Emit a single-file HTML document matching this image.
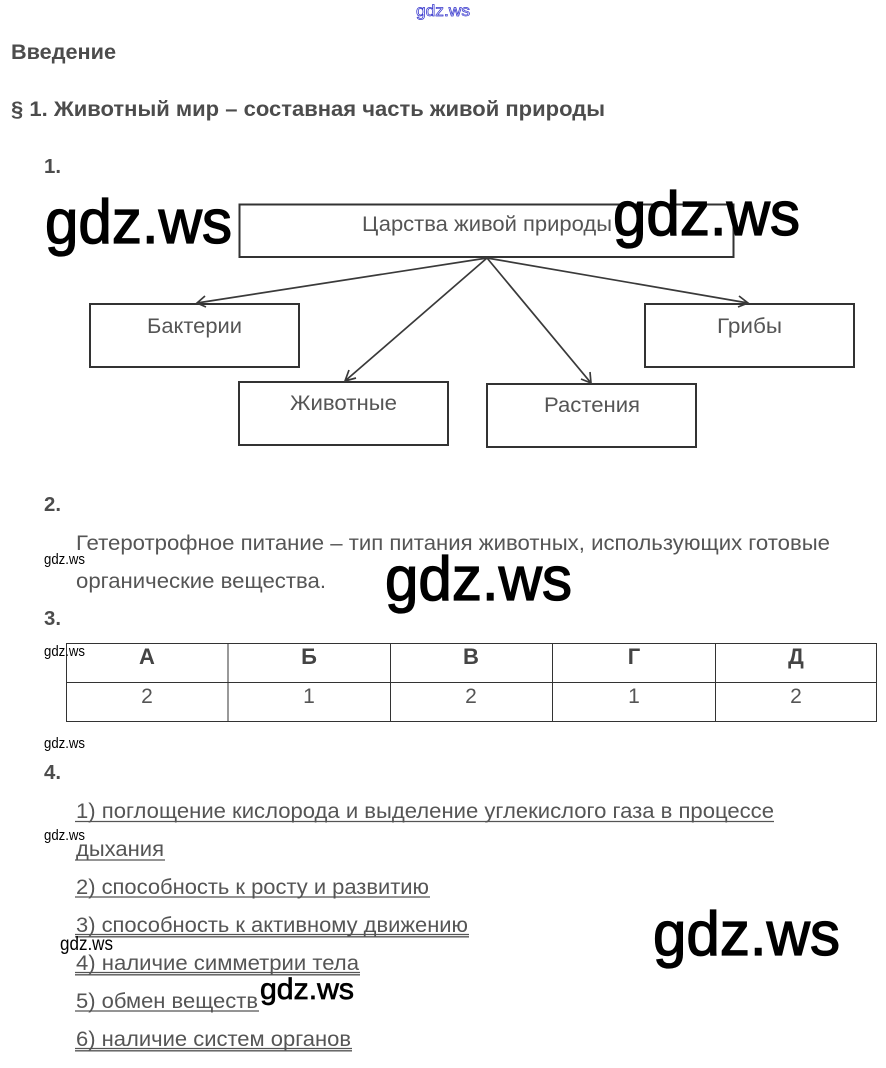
<!DOCTYPE html>
<html lang="ru">
<head>
<meta charset="utf-8">
<style>
html,body{margin:0;padding:0;background:#fff}
svg{display:block}
text{font-family:"Liberation Sans",sans-serif}
.h{font-size:21px;font-weight:bold;fill:#4c4c4c}
.n{font-size:20px;font-weight:bold;fill:#4c4c4c}
.t{font-size:21px;fill:#555}
.c{font-size:21px;fill:#555;text-anchor:middle}
.b{font-size:22px;font-weight:bold;fill:#444;text-anchor:middle}
.w{fill:#000}
.big{font-size:62px;stroke:#000;stroke-width:1.3}
.mid{font-size:30px;stroke:#000;stroke-width:.7}
.sm{font-size:15px}
.u{stroke:#555;stroke-width:1.3}
.box{fill:none;stroke:#333;stroke-width:2}
.ar{fill:none;stroke:#3a3a3a;stroke-width:1.7}
.tb{stroke:#333;stroke-width:1;fill:none}
</style>
</head>
<body>
<svg width="886" height="1068" viewBox="0 0 886 1068" xmlns="http://www.w3.org/2000/svg">
<rect width="886" height="1068" fill="#fff"/>

<text x="416" y="16" font-size="16" textLength="54" lengthAdjust="spacingAndGlyphs" fill="#fff" stroke="#3333cc" stroke-width="0.7">gdz.ws</text>

<text class="h" x="11" y="59" textLength="105" lengthAdjust="spacingAndGlyphs">Введение</text>
<text class="h" x="11" y="116" textLength="594" lengthAdjust="spacingAndGlyphs">§ 1. Животный мир – составная часть живой природы</text>
<text class="n" x="44" y="173" textLength="17" lengthAdjust="spacingAndGlyphs">1.</text>

<rect class="box" x="239.5" y="204.5" width="494" height="52.5"/>
<text class="t" x="362" y="231" textLength="250" lengthAdjust="spacingAndGlyphs">Царства живой природы</text>

<rect class="box" x="90" y="304" width="209" height="63"/>
<rect class="box" x="239" y="382" width="209" height="63"/>
<rect class="box" x="487" y="384" width="209" height="63"/>
<rect class="box" x="645" y="304" width="209" height="63"/>
<text class="t" x="147" y="333" textLength="95" lengthAdjust="spacingAndGlyphs">Бактерии</text>
<text class="t" x="290" y="410" textLength="107" lengthAdjust="spacingAndGlyphs">Животные</text>
<text class="t" x="544" y="412" textLength="96" lengthAdjust="spacingAndGlyphs">Растения</text>
<text class="t" x="717" y="333" textLength="65" lengthAdjust="spacingAndGlyphs">Грибы</text>

<path class="ar" d="M487 258 L197 303 M205 296 L197 303 L206 307"/>
<path class="ar" d="M487 258 L345 381 M349 370 L345 381 L356 378"/>
<path class="ar" d="M487 258 L591 383 M590 372 L591 383 L581 379"/>
<path class="ar" d="M487 258 L748 303 M739 296 L748 303 L738 307"/>

<text class="n" x="44" y="511" textLength="17" lengthAdjust="spacingAndGlyphs">2.</text>
<text class="t" x="76" y="550" textLength="754" lengthAdjust="spacingAndGlyphs">Гетеротрофное питание – тип питания животных, использующих готовые</text>
<text class="t" x="76" y="588" textLength="250" lengthAdjust="spacingAndGlyphs">органические вещества.</text>
<text class="n" x="44" y="625" textLength="17" lengthAdjust="spacingAndGlyphs">3.</text>

<path class="tb" d="M66.5 643.5H876.5V721.5H66.5Z M66.5 682.5H876.5 M228 643V722 M390.5 643V722 M552.5 643V722 M715.5 643V722"/>
<text class="b" x="147" y="664">А</text>
<text class="b" x="309" y="664">Б</text>
<text class="b" x="471" y="664">В</text>
<text class="b" x="634" y="664">Г</text>
<text class="b" x="796" y="664">Д</text>
<text class="c" x="147" y="703">2</text>
<text class="c" x="309" y="703">1</text>
<text class="c" x="471" y="703">2</text>
<text class="c" x="634" y="703">1</text>
<text class="c" x="796" y="703">2</text>

<text class="n" x="44" y="779" textLength="17" lengthAdjust="spacingAndGlyphs">4.</text>
<text class="t" x="76" y="818" textLength="698" lengthAdjust="spacingAndGlyphs">1) поглощение кислорода и выделение углекислого газа в процессе</text>
<path class="u" d="M75 821.5H774"/>
<text class="t" x="76" y="856" textLength="88" lengthAdjust="spacingAndGlyphs">дыхания</text>
<path class="u" d="M75 860H165"/>
<text class="t" x="76" y="894" textLength="353" lengthAdjust="spacingAndGlyphs">2) способность к росту и развитию</text>
<path class="u" d="M75 897H430"/>
<text class="t" x="76" y="932" textLength="392" lengthAdjust="spacingAndGlyphs">3) способность к активному движению</text>
<path class="u" d="M75 934.5H469 M75 936.8H469"/>
<text class="t" x="76" y="970" textLength="283" lengthAdjust="spacingAndGlyphs">4) наличие симметрии тела</text>
<path class="u" d="M75 972.5H360 M75 974.8H360"/>
<text class="t" x="76" y="1008" textLength="182" lengthAdjust="spacingAndGlyphs">5) обмен веществ</text>
<path class="u" d="M75 1011H259"/>
<text class="t" x="76" y="1046" textLength="275" lengthAdjust="spacingAndGlyphs">6) наличие систем органов</text>
<path class="u" d="M75 1048.5H352 M75 1050.8H352"/>

<text class="w big" x="45" y="243" textLength="187" lengthAdjust="spacingAndGlyphs">gdz.ws</text>
<text class="w big" x="613" y="235" textLength="187" lengthAdjust="spacingAndGlyphs">gdz.ws</text>
<text class="w big" x="385" y="600" textLength="187" lengthAdjust="spacingAndGlyphs">gdz.ws</text>
<text class="w big" x="653" y="955" textLength="187" lengthAdjust="spacingAndGlyphs">gdz.ws</text>
<text class="w mid" x="260" y="999" textLength="94" lengthAdjust="spacingAndGlyphs">gdz.ws</text>
<text class="w" font-size="19" x="60" y="950" textLength="53" lengthAdjust="spacingAndGlyphs">gdz.ws</text>
<text class="w sm" x="44" y="564" textLength="41" lengthAdjust="spacingAndGlyphs">gdz.ws</text>
<text class="w sm" x="44" y="656" textLength="41" lengthAdjust="spacingAndGlyphs">gdz.ws</text>
<text class="w sm" x="44" y="748" textLength="41" lengthAdjust="spacingAndGlyphs">gdz.ws</text>
<text class="w sm" x="44" y="840" textLength="41" lengthAdjust="spacingAndGlyphs">gdz.ws</text>
</svg>
</body>
</html>
